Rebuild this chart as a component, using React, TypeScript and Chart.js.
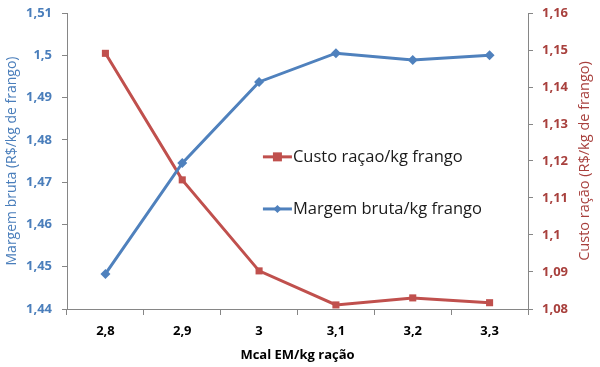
import React, { useEffect, useRef } from "react";
import { Chart, registerables } from "chart.js";

Chart.register(...registerables);

const categories = ["2,8", "2,9", "3", "3,1", "3,2", "3,3"];
const margemBruta = [1.4483, 1.4745, 1.4937, 1.5005, 1.4989, 1.5];
const custoRacao = [1.1491, 1.1149, 1.0903, 1.0811, 1.083, 1.0817];
const leftTitle = "Margem bruta (R$/kg de frango)";
const rightTitle = "Custo ração (R$/kg de frango)";
const xTitle = "Mcal EM/kg ração";
const labelCusto = "Custo raçao/kg frango";
const labelMargem = "Margem bruta/kg frango";

const BLUE = "#4f81bd";
const RED = "#c0504d";
const BLUE_TXT = "#4a7ebb";
const RED_TXT = "#a8403d";
const FONT = "'Open Sans', 'Noto Sans', sans-serif";

const fmt = (v: number) => Number(v.toFixed(2)).toString().replace(".", ",");

const legendPlugin = {
  id: "innerLegend",
  afterDatasetsDraw(chart: any) {
    const { ctx, chartArea } = chart;
    const items = [
      { ds: chart.data.datasets[1], fy: 0.486 },
      { ds: chart.data.datasets[0], fy: 0.662 },
    ];
    const x0 = chartArea.left + (chartArea.right - chartArea.left) * 0.425;
    ctx.save();
    items.forEach(({ ds, fy }) => {
      const y = chartArea.top + (chartArea.bottom - chartArea.top) * fy;
      ctx.strokeStyle = ds.borderColor;
      ctx.lineWidth = 3;
      ctx.beginPath();
      ctx.moveTo(x0, y);
      ctx.lineTo(x0 + 29, y);
      ctx.stroke();
      ctx.fillStyle = ds.borderColor;
      const cx = x0 + 14.5;
      if (ds.pointStyle === "rect") {
        ctx.fillRect(cx - 4.5, y - 4.5, 9, 9);
      } else {
        ctx.beginPath();
        ctx.moveTo(cx, y - 4);
        ctx.lineTo(cx + 4, y);
        ctx.lineTo(cx, y + 4);
        ctx.lineTo(cx - 4, y);
        ctx.closePath();
        ctx.fill();
      }
      ctx.fillStyle = "#1a1a1a";
      ctx.font = `16.5px ${FONT}`;
      ctx.textBaseline = "middle";
      ctx.textAlign = "left";
      ctx.fillText(ds.label, x0 + 30, y);
    });
    // right axis title, reading bottom to top
    const yc = (chartArea.top + chartArea.bottom) / 2;
    ctx.translate(chart.width - 15, yc);
    ctx.rotate(-Math.PI / 2);
    ctx.fillStyle = RED_TXT;
    ctx.font = `14.5px ${FONT}`;
    ctx.textAlign = "center";
    ctx.textBaseline = "middle";
    ctx.fillText(rightTitle, 0, 0);
    ctx.restore();
  },
};

export default function App() {
  const ref = useRef<HTMLCanvasElement | null>(null);
  useEffect(() => {
    document.body.style.margin = "0";
    const chart = new Chart(ref.current as HTMLCanvasElement, {
      type: "line",
      data: {
        labels: categories,
        datasets: [
          {
            label: labelMargem,
            data: margemBruta,
            yAxisID: "y",
            borderColor: BLUE,
            backgroundColor: BLUE,
            borderWidth: 3,
            pointStyle: "rectRot",
            pointRadius: 5,
            pointBorderWidth: 0,
            tension: 0,
          },
          {
            label: labelCusto,
            data: custoRacao,
            yAxisID: "y1",
            borderColor: RED,
            backgroundColor: RED,
            borderWidth: 3,
            pointStyle: "rect",
            pointRadius: 5,
            pointBorderWidth: 0,
            tension: 0,
          },
        ],
      },
      options: {
        animation: false,
        responsive: false,
        layout: { padding: { top: 13, left: 0, right: 0, bottom: 0 } },
        plugins: { legend: { display: false }, tooltip: { enabled: false } },
        scales: {
          x: {
            offset: true,
            grid: {
              offset: true,
              drawOnChartArea: false,
              tickLength: 6,
              color: "#868686",
            },
            border: { color: "#868686", width: 1 },
            ticks: { color: "#000", font: { family: FONT, size: 13, weight: "bold" }, padding: 8 },
            title: {
              display: true,
              text: xTitle,
              color: "#000",
              font: { family: FONT, size: 13, weight: "bold" },
              padding: { top: 1 },
            },
            afterFit(s: any) {
              s.height = 58;
              s.paddingLeft = 0;
              s.paddingRight = 0;
            },
          },
          y: {
            position: "left",
            min: 1.44,
            max: 1.51,
            grid: { drawOnChartArea: false, tickLength: 5, color: "#868686" },
            border: { color: "#868686", width: 1 },
            ticks: {
              stepSize: 0.01,
              color: BLUE_TXT,
              font: { family: FONT, size: 13, weight: "bold" },
              padding: 10,
              callback: (v: any) => fmt(Number(v)),
            },
            title: {
              display: true,
              text: leftTitle,
              color: BLUE_TXT,
              font: { family: FONT, size: 14 },
              padding: { top: 4, bottom: 2 },
            },
            afterFit(s: any) {
              s.width = 67;
              s.paddingTop = 0;
              s.paddingBottom = 0;
            },
          },
          y1: {
            position: "right",
            min: 1.08,
            max: 1.16,
            grid: { drawOnChartArea: false, tickLength: 5, color: "#868686" },
            border: { color: "#868686", width: 1 },
            ticks: {
              stepSize: 0.01,
              color: RED_TXT,
              font: { family: FONT, size: 13, weight: "bold" },
              padding: 9,
              callback: (v: any) => fmt(Number(v)),
            },
            afterFit(s: any) {
              s.width = 72;
              s.paddingTop = 0;
              s.paddingBottom = 0;
            },
          },
        },
      },
      plugins: [legendPlugin],
    });
    return () => chart.destroy();
  }, []);
  return (
    <div style={{ width: 600, height: 367 }}>
      <canvas ref={ref} width={600} height={367} style={{ display: "block" }} />
    </div>
  );
}
